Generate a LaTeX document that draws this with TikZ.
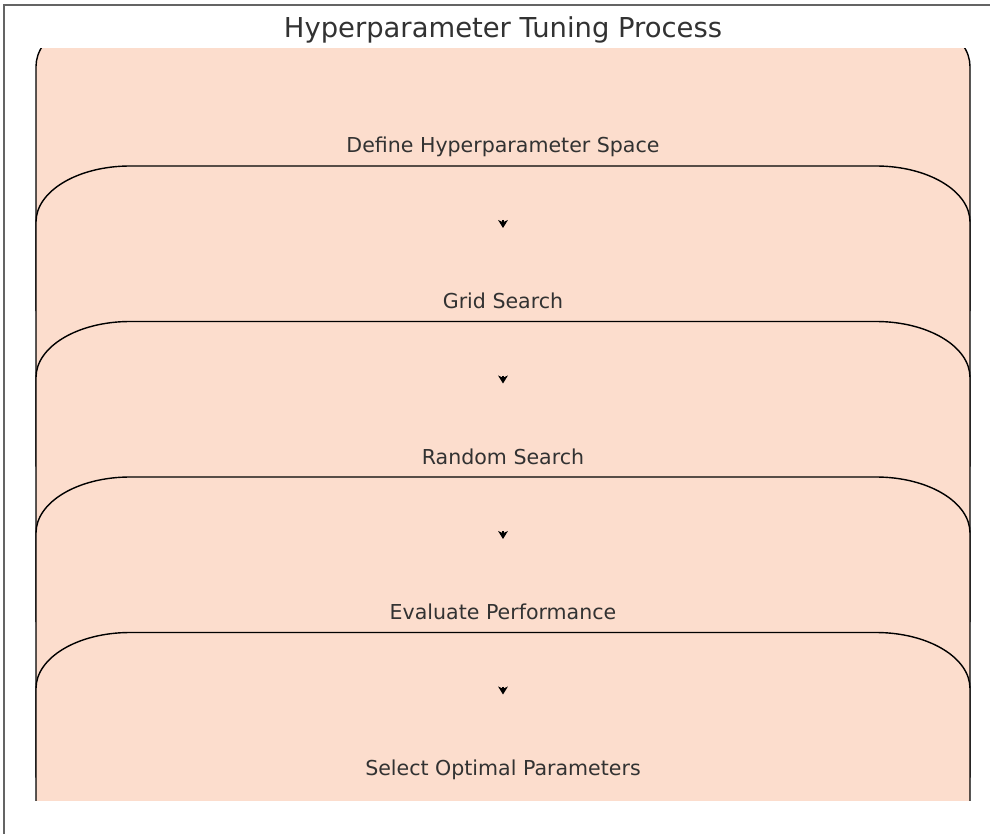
\documentclass[tikz,border=0pt]{standalone}
\usepackage{fontspec}
\setmainfont{DejaVu Sans}
\usetikzlibrary{arrows.meta}

\definecolor{stagefill}{RGB}{252,221,205}
\definecolor{inkgray}{RGB}{50,50,50}
\definecolor{framegray}{RGB}{100,100,100}

% one stage box, #1 = its top edge (rounded top corners are elliptical)
\newcommand{\stagebox}[1]{%
  \draw[stage] (36,#1+300) -- (36,#1+56)
    .. controls (36,#1+25) and (78,#1) .. (130,#1)
    -- (876,#1)
    .. controls (928,#1) and (970,#1+25) .. (970,#1+56)
    -- (970,#1+300) -- cycle;}

\begin{document}
\begin{tikzpicture}[x=0.02cm, y=-0.02cm,
  stage/.style={draw=black, line width=0.8pt, fill=stagefill},
  stagetext/.style={text=inkgray, anchor=base, inner sep=0pt,
    font=\fontsize{11.7}{14}\selectfont},
  headtext/.style={text=inkgray, anchor=base, inner sep=0pt,
    font=\fontsize{15.6}{19}\selectfont},
  flowtip/.style={-{Stealth[length=4.5pt,width=5.5pt,inset=1.2pt]}, black, line width=0.8pt}]
	\clip (0,0) rectangle (990,834);
	\draw[framegray, line width=0.6pt] (4,840) -- (4,5) -- (996,5);
	\node[headtext] (title) at (503,38) {Hyperparameter Tuning Process};

	% boxes, each one drawn over the one before
	\begin{scope}
		\clip (0,49) rectangle (990,800);
		\foreach \ytop in {10.5,166,321.5,477,632.5} {
			\stagebox{\ytop}
		}
	\end{scope}

	\foreach \ytop/\txt [count=\i] in {10.5/Define Hyperparameter Space,
	    166/Grid Search, 321.5/Random Search, 477/Evaluate Performance,
	    632.5/Select Optimal Parameters} {
		\node[stagetext] (s\i) at (503,\ytop+142.5) {\txt};
	}

	% short arrows between the stages
	\foreach \ytop [count=\i from 2] in {166,321.5,477,632.5} {
		\coordinate (a\i) at (503,\ytop+54);
		\coordinate (b\i) at (503,\ytop+62);
		\draw[flowtip] (a\i) -- (b\i);
	}
\end{tikzpicture}
\end{document}
